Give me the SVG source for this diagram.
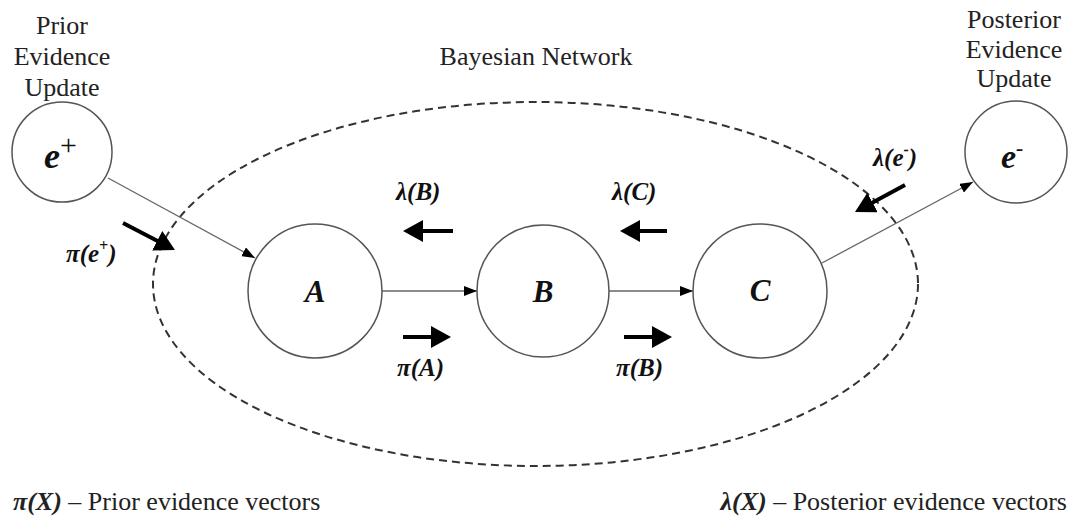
<svg xmlns="http://www.w3.org/2000/svg" width="1080" height="519" viewBox="0 0 1080 519">
<style>
.txt{font-family:"Liberation Serif","Times New Roman",serif;font-size:26px;fill:#222;}
.lbl{font-family:"Liberation Serif","Times New Roman",serif;font-size:25px;font-weight:bold;font-style:italic;fill:#111;}
.node{fill:#fff;stroke:#555;stroke-width:1.5;}
.nl{font-family:"Liberation Serif","Times New Roman",serif;font-size:31px;font-weight:bold;font-style:italic;fill:#111;text-anchor:middle;}
.conn{stroke:#666;stroke-width:1.3;fill:none;marker-end:url(#small);}
.big{stroke:#000;stroke-width:4;fill:none;marker-end:url(#bigArrow);}
</style>
<defs>
<marker id="small" markerUnits="userSpaceOnUse" markerWidth="13" markerHeight="10" viewBox="0 0 13 10" refX="13" refY="5" orient="auto">
<path d="M0,0 L13,5 L0,10 Z" fill="#000"/>
</marker>
<marker id="bigArrow" markerUnits="userSpaceOnUse" markerWidth="20" markerHeight="22" viewBox="0 0 20 22" refX="2" refY="11" orient="auto">
<path d="M0,0 L20,11 L0,22 Z" fill="#000"/>
</marker>
</defs>
<rect width="1080" height="519" fill="#fff"/>

<g id="network-boundary">
<ellipse cx="535.5" cy="284" rx="382.5" ry="182" fill="none" stroke="#333" stroke-width="2" stroke-dasharray="8,5"/>
<text class="txt" x="536" y="65" text-anchor="middle">Bayesian Network</text>
</g>

<g id="connectors">
<line class="conn" x1="108" y1="178" x2="255" y2="258"/>
<line class="conn" x1="382" y1="291" x2="477" y2="291"/>
<line class="conn" x1="609" y1="291" x2="693" y2="291"/>
<line class="conn" x1="822" y1="263" x2="973" y2="182"/>
<line class="big" x1="123" y1="223" x2="159" y2="241.7"/>
<line class="big" x1="905" y1="185" x2="870.8" y2="203.5"/>
<line class="big" x1="453" y1="231" x2="421" y2="231"/>
<line class="big" x1="667" y1="231" x2="638" y2="231"/>
<line class="big" x1="403" y1="337" x2="433" y2="337"/>
<line class="big" x1="624" y1="337" x2="654" y2="337"/>
</g>

<g id="node-eplus">
<circle class="node" cx="62" cy="152" r="50"/>
<text class="txt" x="62" y="34" text-anchor="middle">Prior</text>
<text class="txt" x="62" y="65" text-anchor="middle">Evidence</text>
<text class="txt" x="62" y="96" text-anchor="middle">Update</text>
<text x="44" y="168" font-family="Liberation Serif,serif" font-size="36" font-weight="bold" font-style="italic" fill="#111">e<tspan font-size="30" font-weight="normal" font-style="normal" dy="-13">+</tspan></text>
</g>

<g id="node-eminus">
<circle class="node" cx="1016" cy="152" r="51"/>
<text class="txt" x="1014" y="28" text-anchor="middle">Posterior</text>
<text class="txt" x="1014" y="58" text-anchor="middle">Evidence</text>
<text class="txt" x="1014" y="87" text-anchor="middle">Update</text>
<text x="1001" y="168" font-family="Liberation Serif,serif" font-size="34" font-weight="bold" font-style="italic" fill="#111">e<tspan font-size="22" dy="-13">-</tspan></text>
</g>

<g id="node-A">
<circle class="node" cx="315" cy="291" r="67"/>
<text class="nl" x="315" y="302">A</text>
</g>
<g id="node-B">
<circle class="node" cx="543" cy="291" r="66"/>
<text class="nl" x="543" y="302">B</text>
</g>
<g id="node-C">
<circle class="node" cx="760" cy="291" r="67"/>
<text class="nl" x="760" y="301">C</text>
</g>

<g id="labels">
<text class="lbl" x="66" y="262">π(e<tspan font-size="16" dy="-11">+</tspan><tspan dy="11">)</tspan></text>
<text class="lbl" x="873" y="166">λ(e<tspan font-size="16" dy="-11">-</tspan><tspan dy="11">)</tspan></text>
<text class="lbl" x="396" y="200">λ(B)</text>
<text class="lbl" x="612" y="200">λ(C)</text>
<text class="lbl" x="397" y="376">π(A)</text>
<text class="lbl" x="616" y="376">π(B)</text>
</g>

<g id="legend">
<text class="txt" x="13" y="510" font-size="27"><tspan font-weight="bold" font-style="italic">π(X)</tspan> – Prior evidence vectors</text>
<text class="txt" x="1067" y="510" font-size="27" text-anchor="end"><tspan font-weight="bold" font-style="italic">λ(X)</tspan> – Posterior evidence vectors</text>
</g>
</svg>
